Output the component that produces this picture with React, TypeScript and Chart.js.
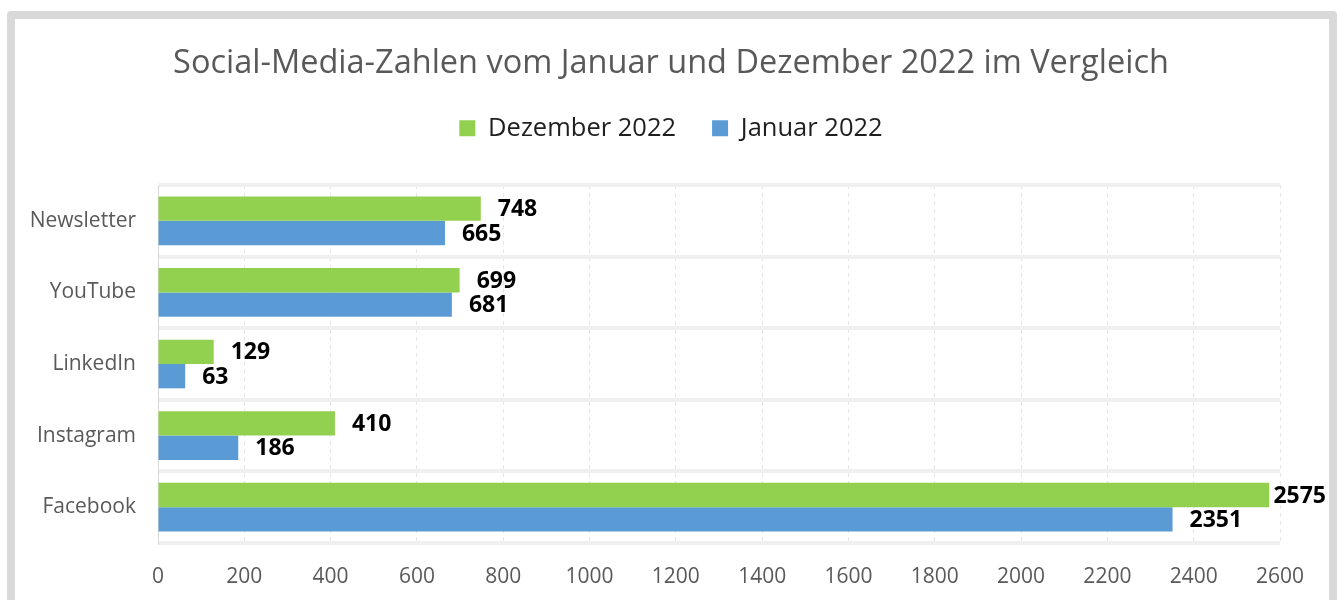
import React, { useEffect, useRef } from "react";
import { Chart, registerables } from "chart.js";

Chart.register(...registerables);

const categories = ["Newsletter", "YouTube", "LinkedIn", "Instagram", "Facebook"];
const dezember2022 = [748, 699, 129, 410, 2575];
const januar2022 = [665, 681, 63, 186, 2351];
const seriesNames = ["Dezember 2022", "Januar 2022"];
const titleText = "Social-Media-Zahlen vom Januar und Dezember 2022 im Vergleich";
const xMin = 0;
const xMax = 2600;
const xStep = 200;

const FONT = "'Open Sans', 'Noto Sans', sans-serif";

const dataLabelPlugin = {
  id: "dataLabels",
  afterDatasetsDraw(chart: any) {
    const ctx = chart.ctx;
    ctx.save();
    ctx.font = `bold 23px ${FONT}`;
    ctx.fillStyle = "#000000";
    ctx.textAlign = "left";
    ctx.textBaseline = "middle";
    chart.data.datasets.forEach((ds: any, di: number) => {
      const meta = chart.getDatasetMeta(di);
      meta.data.forEach((bar: any, i: number) => {
        const text = String(ds.data[i]);
        const w = ctx.measureText(text).width;
        let x = bar.x + 17;
        const limit = 1326;
        if (x + w > limit) x = limit - w;
        ctx.fillText(text, x, bar.y + 1);
      });
    });
    ctx.restore();
  },
};

export default function App() {
  const canvasRef = useRef<HTMLCanvasElement>(null);

  useEffect(() => {
    const canvas = canvasRef.current;
    if (!canvas) return;
    const chart = new Chart(canvas, {
      type: "bar",
      data: {
        labels: categories,
        datasets: [
          {
            label: seriesNames[0],
            data: dezember2022,
            backgroundColor: "#92D050",
            borderWidth: 0,
            categoryPercentage: 0.68,
            barPercentage: 1,
          },
          {
            label: seriesNames[1],
            data: januar2022,
            backgroundColor: "#5B9BD5",
            borderWidth: 0,
            categoryPercentage: 0.68,
            barPercentage: 1,
          },
        ],
      },
      options: {
        indexAxis: "y",
        responsive: false,
        animation: false,
        layout: { padding: { left: 0, right: 0, top: 10, bottom: 11 } },
        plugins: {
          title: {
            display: true,
            text: titleText,
            color: "#595959",
            font: { family: FONT, size: 32.5, weight: "normal", lineHeight: 1 },
            padding: { top: 37, bottom: 0 },
          },
          subtitle: {
            display: true,
            text: " ",
            weight: 500,
            font: { size: 1, lineHeight: 1 },
            padding: { top: 0, bottom: 33 },
          } as any,
          legend: {
            display: true,
            position: "top",
            weight: 1000,
            labels: {
              boxWidth: 16,
              boxHeight: 16,
              padding: 36,
              color: "#1f1f1f",
              font: { family: FONT, size: 25.5 },
            },
          } as any,
          tooltip: { enabled: false },
        },
        scales: {
          x: {
            min: xMin,
            max: xMax,
            afterFit(scale: any) {
              scale.height = 46;
            },
            ticks: {
              stepSize: xStep,
              color: "#595959",
              font: { family: FONT, size: 21 },
              padding: 21,
              callback: (v: any) => String(v),
            },
            grid: {
              color: (c: any) => (c.tick && c.tick.value === 0 ? "rgba(0,0,0,0)" : "#e6e6e6"),
              lineWidth: 1,
              drawTicks: false,
            },
            border: { display: false, dash: [4, 4] },
          },
          y: {
            position: "left",
            afterFit(scale: any) {
              scale.width = 158;
            },
            ticks: {
              color: "#595959",
              font: { family: FONT, size: 21 },
              padding: 22,
            },
            grid: {
              color: "#f0f0f0",
              lineWidth: 4,
              drawTicks: false,
              offset: true,
            },
            border: { display: true, color: "#d9d9d9", width: 1 },
          },
          yRightSpace: {
            type: "category",
            position: "right",
            display: true,
            afterFit(scale: any) {
              scale.width = 62;
            },
            ticks: { display: false },
            grid: { display: false, drawTicks: false },
            border: { display: false },
          },
        },
      } as any,
      plugins: [dataLabelPlugin],
    });
    return () => chart.destroy();
  }, []);

  return (
    <div style={{ position: "fixed", left: 0, top: 0, width: 1342, height: 600, overflow: "hidden", background: "#ffffff" }}>
      <div
        style={{
          position: "absolute",
          left: 7,
          top: 11,
          width: 1330,
          height: 640,
          border: "8px solid #d9d9d9",
          borderRadius: 4,
          boxSizing: "border-box",
        }}
      />
      <canvas
        ref={canvasRef}
        width={1342}
        height={600}
        style={{ position: "absolute", left: 0, top: 0, width: 1342, height: 600 }}
      />
    </div>
  );
}
